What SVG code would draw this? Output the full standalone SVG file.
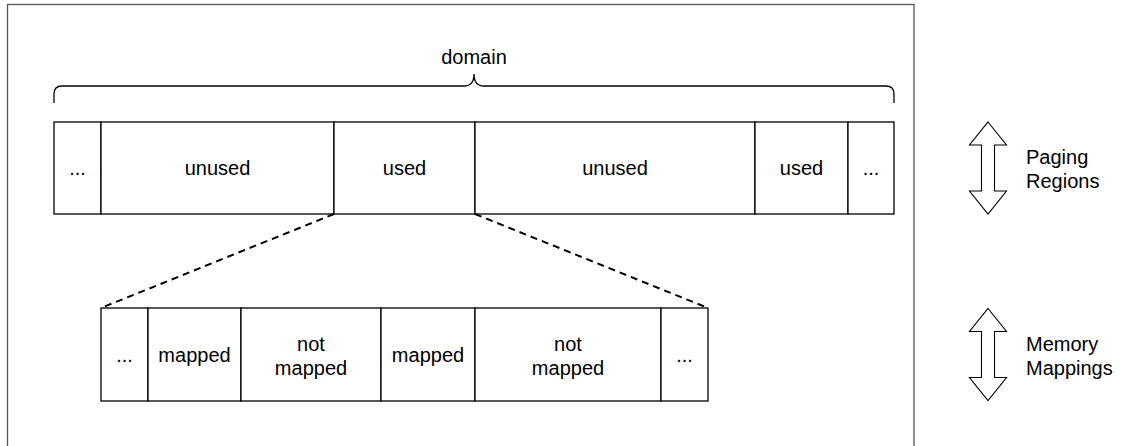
<svg xmlns="http://www.w3.org/2000/svg" width="1121" height="446" viewBox="0 0 1121 446">
  <style>
    .cell { fill: #ffffff; stroke: #000000; stroke-width: 1.3; }
    .lbl { font-family: "Liberation Sans", Arial, sans-serif; font-size: 20px; fill: #000000; text-anchor: middle; }
    .side { font-family: "Liberation Sans", Arial, sans-serif; font-size: 20px; fill: #000000; text-anchor: start; }
    .frame { fill: none; stroke: #555555; stroke-width: 1.3; }
    .brace { fill: none; stroke: #000000; stroke-width: 1.3; }
    .dash { fill: none; stroke: #000000; stroke-width: 2; stroke-dasharray: 7 5; }
    .dbl { fill: #ffffff; stroke: #000000; stroke-width: 1.1; stroke-linejoin: miter; }
  </style>
  <defs>
    <!-- hollow double-headed arrow, 37 wide, 92 tall, origin at top tip -->
    <path id="dblArrow" d="M0,0 L18.5,23 L6.5,23 L6.5,69 L18.5,69 L0,92 L-18.5,69 L-6.5,69 L-6.5,23 L-18.5,23 Z"/>
  </defs>

  <!-- outer frame, open at the bottom edge -->
  <rect id="frame" class="frame" x="7.5" y="4.5" width="906.5" height="460"/>

  <!-- curly brace over the whole domain -->
  <g id="domain">
    <path class="brace" d="M54,103 V94 Q54,86 62,86 H464 Q474,86 474,74 Q474,86 484,86 H886 Q894,86 894,94 V103"/>
    <text class="lbl" x="474" y="64">domain</text>
  </g>

  <!-- paging regions -->
  <g id="paging-regions">
    <g id="pr-0"><rect class="cell" x="54" y="122" width="47" height="92"/><text class="lbl" x="77.5" y="175">...</text></g>
    <g id="pr-1"><rect class="cell" x="101" y="122" width="233" height="92"/><text class="lbl" x="217.5" y="175">unused</text></g>
    <g id="pr-2"><rect class="cell" x="334" y="122" width="141" height="92"/><text class="lbl" x="404.5" y="175">used</text></g>
    <g id="pr-3"><rect class="cell" x="475" y="122" width="280" height="92"/><text class="lbl" x="615" y="175">unused</text></g>
    <g id="pr-4"><rect class="cell" x="755" y="122" width="93" height="92"/><text class="lbl" x="801.5" y="175">used</text></g>
    <g id="pr-5"><rect class="cell" x="848" y="122" width="46" height="92"/><text class="lbl" x="871" y="175">...</text></g>
  </g>

  <!-- memory mappings inside the used region -->
  <g id="memory-mappings">
    <g id="mm-0"><rect class="cell" x="101" y="308" width="47" height="93"/><text class="lbl" x="124.5" y="362">...</text></g>
    <g id="mm-1"><rect class="cell" x="148" y="308" width="93" height="93"/><text class="lbl" x="194.5" y="362">mapped</text></g>
    <g id="mm-2"><rect class="cell" x="241" y="308" width="140" height="93"/><text class="lbl" x="311" y="350.5">not</text><text class="lbl" x="311" y="374.5">mapped</text></g>
    <g id="mm-3"><rect class="cell" x="381" y="308" width="94" height="93"/><text class="lbl" x="428" y="362">mapped</text></g>
    <g id="mm-4"><rect class="cell" x="475" y="308" width="186" height="93"/><text class="lbl" x="568" y="350.5">not</text><text class="lbl" x="568" y="374.5">mapped</text></g>
    <g id="mm-5"><rect class="cell" x="661" y="308" width="47" height="93"/><text class="lbl" x="684.5" y="362">...</text></g>
  </g>

  <!-- zoom lines from the used region to its mappings -->
  <g id="connectors">
    <line class="dash" x1="334" y1="214" x2="101" y2="308"/>
    <line class="dash" x1="475" y1="214" x2="708" y2="308"/>
  </g>

  <!-- level legend -->
  <g id="legend-paging">
    <use href="#dblArrow" class="dbl" x="988" y="122"/>
    <text class="side" x="1026" y="164">Paging</text>
    <text class="side" x="1026" y="188">Regions</text>
  </g>
  <g id="legend-mappings">
    <use href="#dblArrow" class="dbl" x="988" y="308.5"/>
    <text class="side" x="1026" y="350.5">Memory</text>
    <text class="side" x="1026" y="374.5">Mappings</text>
  </g>
</svg>
